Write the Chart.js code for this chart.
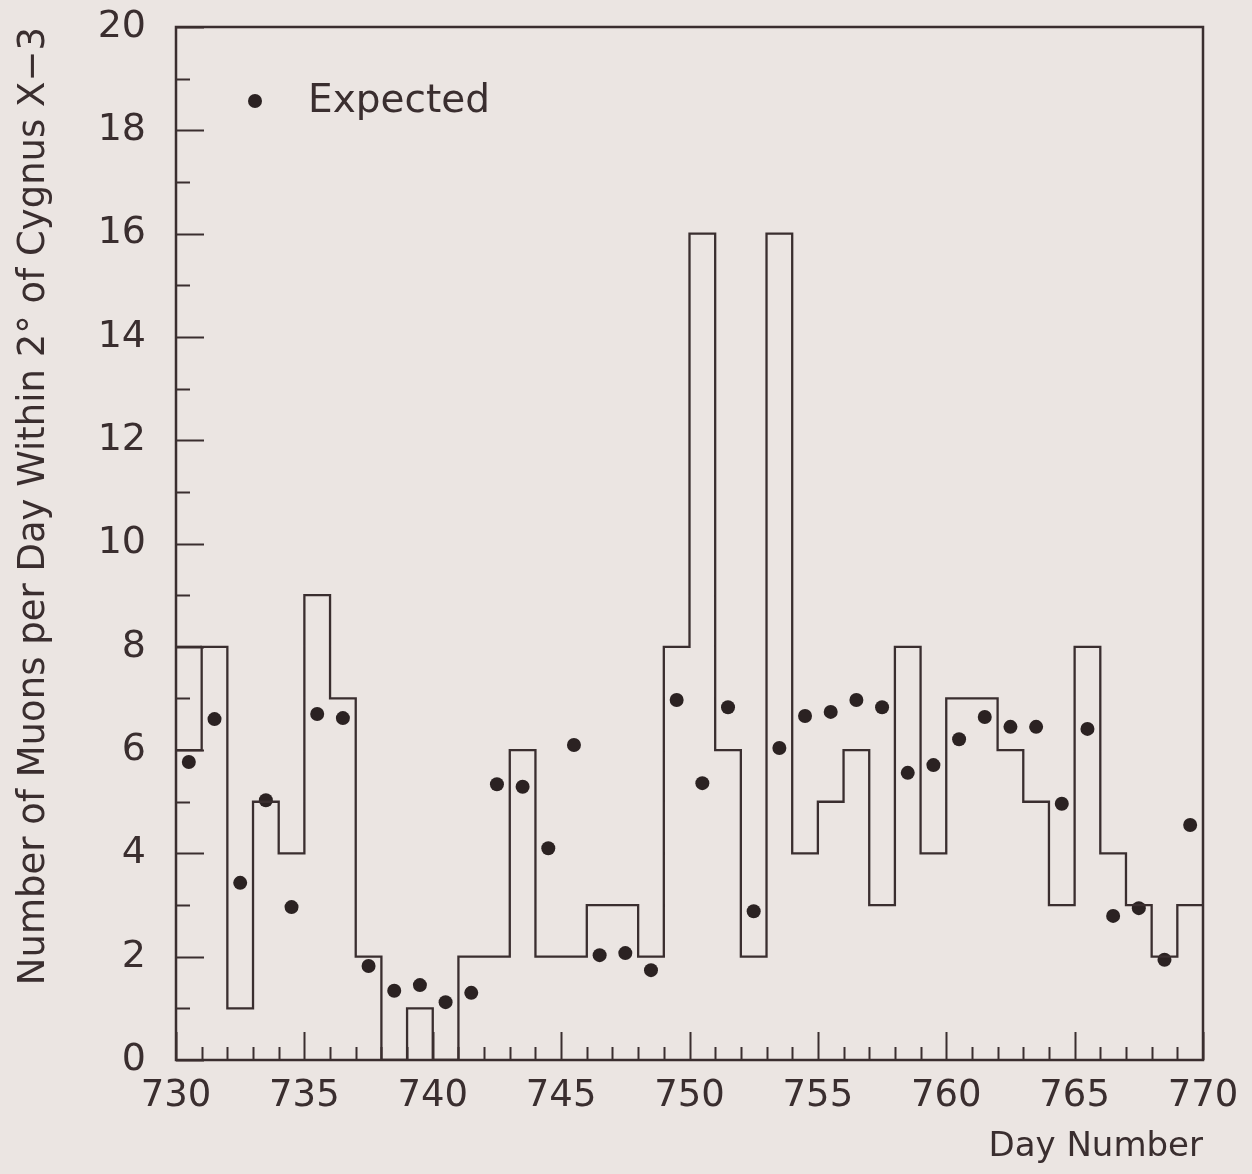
<!DOCTYPE html>
<html>
<head>
<meta charset="utf-8">
<script src="https://cdn.jsdelivr.net/npm/chart.js@4/dist/chart.umd.min.js"></script>
<style>
  html, body { margin: 0; padding: 0; background: #ebe5e2; }
  #wrap { width: 1252px; height: 1174px; position: relative; }
</style>
</head>
<body>
<div id="wrap"><canvas id="c"></canvas></div>
<script>
// ---- data ----
const binStartDays = [730,731,732,733,734,735,736,737,738,739,
                      740,741,742,743,744,745,746,747,748,749,
                      750,751,752,753,754,755,756,757,758,759,
                      760,761,762,763,764,765,766,767,768,769];
const binEndDay = 770;
const observedCounts = [6,8,1,5,4,9,7,2,0,1,
                        0,2,2,6,2,2,3,3,2,8,
                        16,6,2,16,4,5,6,3,8,4,
                        7,7,6,5,3,8,4,3,2,3];
const firstBinUpperEdge = 8;
const expectedCounts = [5.77,6.60,3.43,5.03,2.96,6.70,6.62,1.82,1.34,1.45,
                        1.12,1.30,5.34,5.29,4.10,6.10,2.03,2.07,1.74,6.97,
                        5.36,6.83,2.88,6.04,6.66,6.74,6.97,6.83,5.56,5.71,
                        6.21,6.64,6.45,6.45,4.96,6.41,2.79,2.94,1.94,4.55];
const xMin = 730, xMax = 770, xMajorStep = 5, xMinorStep = 1;
const yMin = 0, yMax = 20, yMajorStep = 2, yMinorStep = 1;
const legendLabel = 'Expected';
const xTitle = 'Day Number';
const yTitle = 'Number of Muons per Day Within 2\u00B0 of Cygnus X\u22123';

// ---- styles ----
const ink = '#3a2e2f';
const dotInk = '#2b2222';
const fontFamily = "'DejaVu Sans', sans-serif";

// ---- derived datasets ----
const binEnd = i => (i + 1 < binStartDays.length ? binStartDays[i + 1] : binEndDay);
const histPoints = [];
binStartDays.forEach((d, i) => {
  histPoints.push({ x: d, y: observedCounts[i] });
  histPoints.push({ x: binEnd(i), y: observedCounts[i] });
});
const firstBinTop = [
  { x: binStartDays[0], y: firstBinUpperEdge },
  { x: binEnd(0), y: firstBinUpperEdge }
];
const expectedPoints = binStartDays.map((d, i) => ({ x: (d + binEnd(i)) / 2, y: expectedCounts[i] }));

const framePlugin = {
  id: 'frame',
  afterDatasetsDraw(chart) {
    const { ctx, chartArea: a, scales: { x, y } } = chart;
    ctx.save();
    ctx.strokeStyle = ink;
    ctx.lineWidth = 2.5;
    ctx.strokeRect(a.left, a.top, a.right - a.left, a.bottom - a.top);
    ctx.lineWidth = 2;
    ctx.beginPath();
    for (let v = xMin; v <= xMax; v += xMinorStep) {
      const px = Math.round(x.getPixelForValue(v)) + 0.5;
      const len = (v - xMin) % xMajorStep === 0 ? 28 : 13;
      ctx.moveTo(px, a.bottom);
      ctx.lineTo(px, a.bottom - len);
    }
    for (let v = yMin; v <= yMax; v += yMinorStep) {
      const py = Math.round(y.getPixelForValue(v)) + 0.5;
      const len = (v - yMin) % yMajorStep === 0 ? 28 : 14;
      ctx.moveTo(a.left, py);
      ctx.lineTo(a.left + len, py);
    }
    ctx.stroke();
    // legend
    const lx = a.left + 79, ly = a.top + 74;
    ctx.fillStyle = dotInk;
    ctx.beginPath();
    ctx.arc(lx, ly, 7, 0, Math.PI * 2);
    ctx.fill();
    ctx.fillStyle = ink;
    ctx.font = "39px " + fontFamily;
    ctx.textBaseline = 'middle';
    ctx.textAlign = 'left';
    ctx.fillText(chart.data.datasets[2].label, a.left + 132, ly + 1);
    ctx.restore();
  }
};

new Chart(document.getElementById('c'), {
  type: 'scatter',
  data: {
    datasets: [
      { label: 'Observed', data: histPoints, showLine: true, borderColor: ink, borderWidth: 2.3,
        pointRadius: 0, tension: 0, fill: false },
      { label: 'Observed (first bin)', data: firstBinTop, showLine: true, borderColor: ink, borderWidth: 2.3,
        pointRadius: 0, tension: 0, fill: false },
      { label: legendLabel, data: expectedPoints, showLine: false, pointRadius: 7, pointStyle: 'circle',
        backgroundColor: dotInk, borderColor: dotInk, borderWidth: 0 }
    ]
  },
  options: {
    responsive: true,
    maintainAspectRatio: false,
    animation: false,
    events: [],
    layout: { padding: { top: 27, right: 49, left: 0, bottom: 0 } },
    plugins: { legend: { display: false }, tooltip: { enabled: false } },
    scales: {
      x: {
        type: 'linear', min: xMin, max: xMax,
        grid: { display: false, drawTicks: false },
        border: { display: false },
        ticks: { stepSize: xMajorStep, padding: 14, color: ink, font: { family: fontFamily, size: 37 },
                 maxRotation: 0, autoSkip: false },
        title: { display: true, text: xTitle, align: 'end', color: ink,
                 font: { family: fontFamily, size: 34 }, padding: { top: 0, bottom: 6 } },
        afterFit(s) { s.height = 114; s.paddingLeft = 0; s.paddingRight = 0; }
      },
      y: {
        type: 'linear', min: yMin, max: yMax,
        grid: { display: false, drawTicks: false },
        border: { display: false },
        ticks: { stepSize: yMajorStep, padding: 30, color: ink, font: { family: fontFamily, size: 38 },
                 autoSkip: false },
        title: { display: true, text: yTitle, align: 'end', color: ink,
                 font: { family: fontFamily, size: 37 }, padding: { top: 12, bottom: 0 } },
        afterFit(s) { s.width = 176; s.paddingTop = 0; s.paddingBottom = 0; }
      }
    }
  },
  plugins: [framePlugin]
});
</script>
</body>
</html>
